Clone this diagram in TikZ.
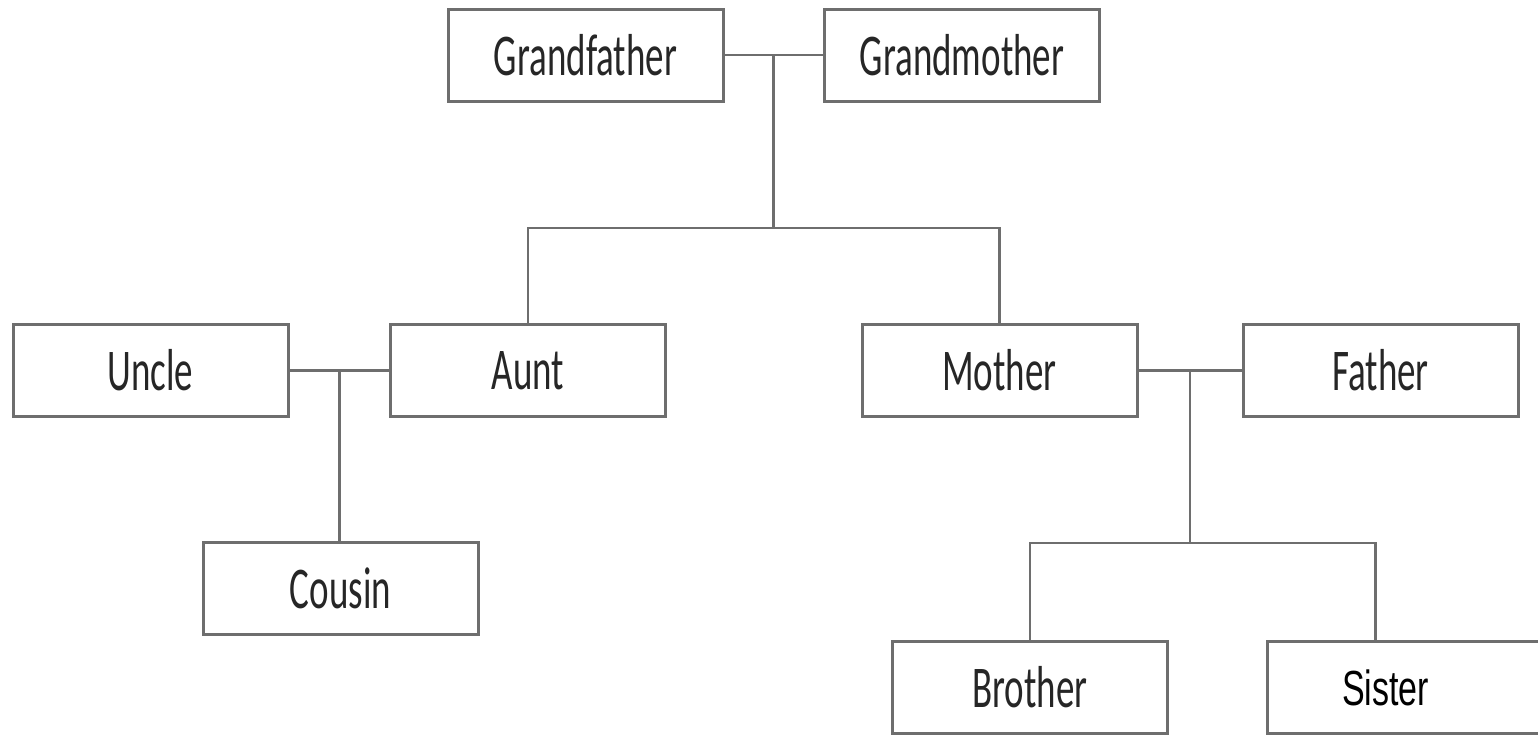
\documentclass[tikz,border=0pt]{standalone}
\usepackage{fontspec}
\setmainfont{Carlito}
\newfontfamily\arialfont{Liberation Sans}
\usetikzlibrary{positioning}

\definecolor{boxgray}{HTML}{6E6E6E}
\definecolor{textgray}{HTML}{262626}

\newcommand{\tall}[1]{\scalebox{1}[1.6]{#1}}

\begin{document}
\begin{tikzpicture}[x=0.5pt, y=-0.5pt]
  \tikzset{
    person/.style={draw=boxgray, line width=1.5pt, minimum width=137.5pt,
      minimum height=46pt, inner sep=0pt, text=textgray,
      font=\fontsize{18.5}{20}\selectfont},
    tie/.style={draw=boxgray, line width=1.4pt},
  }
  \useasboundingbox (0,0) rectangle (1538,735);

  % grandparents
  \node[person] (gf) at (585.5,55) {\tall{Grandfather}};
  \node[person] (gm) at (962,55) {\tall{Grandmother}};

  % second row
  \node[person] (uncle) at (150.5,370.5) {\tall{Uncle}};
  \node[person] (aunt) at (528,370.5) {\tall{Aunt}};
  \node[person] (mother) at (999.5,370.5) {\tall{Mother}};
  \node[person] (father) at (1380.5,370.5) {\tall{Father}};

  % children
  \node[person] (cousin) at (340.5,588.5) {\tall{Cousin}};
  \node[person] (brother) at (1030,687.5) {\tall{Brother}};
  \node[person, text=black] (sister) at (1404.5,687.5)
    {\arialfont\fontsize{17}{19}\selectfont\scalebox{1}[1.45]{Sister}\hspace*{19pt}};

  \draw[tie] (gf) -- (gm) coordinate[pos=0.5] (gpmid);
  \coordinate (gpkids) at (gpmid |- 0,228);
  \draw[tie] (gpmid) -- (gpkids);
  \draw[tie] (aunt.north) |- (gpkids) -| (mother.north);

  \draw[tie] (uncle) -- (aunt) coordinate[pos=0.5] (uamid);
  \draw[tie] (uamid) -- (uamid |- cousin.north);

  \draw[tie] (mother) -- (father) coordinate[pos=0.5] (mfmid);
  \coordinate (mfkids) at (mfmid |- 0,543);
  \draw[tie] (mfmid) -- (mfkids);
  \draw[tie] (brother.north) |- (mfkids) -| ([xshift=-14.5pt]sister.north);

\end{tikzpicture}
\end{document}
